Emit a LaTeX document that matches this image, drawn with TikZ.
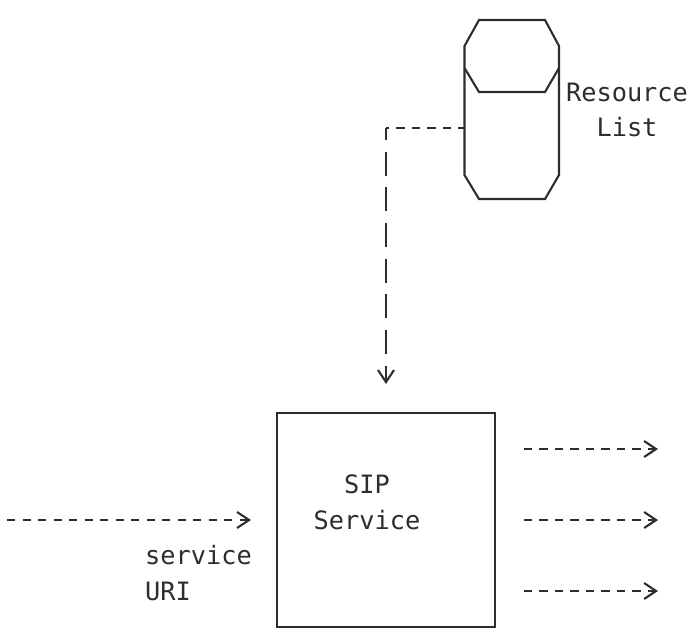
\documentclass[tikz,border=0pt]{standalone}
\usepackage{fontspec}
\setmainfont{DejaVu Sans Mono}
\usetikzlibrary{arrows.meta}
\definecolor{ink}{HTML}{2B2D30}
\begin{document}
\begin{tikzpicture}[x=1pt,y=-1pt,
  every node/.style={text=ink, font=\fontsize{25.3}{35.67}\selectfont, inner sep=0pt},
  boxline/.style={draw=ink, line width=2.1pt},
  hflow/.style={draw=ink, line width=2.1pt, dash pattern=on 8.3pt off 7.2pt},
  vflow/.style={draw=ink, line width=2.1pt, dash pattern=on 24pt off 11.67pt, dash phase=12pt},
  chev/.style={-{Straight Barb[length=12pt,width=16pt]}},
]
\path[use as bounding box] (0,0) rectangle (692,635);

% Resource list (cylinder)
\node[minimum width=94.5pt, minimum height=179pt] (rl) at (511.75,109.5) {};
\draw[boxline] (464.5,175) -- (464.5,46) -- (479,20) -- (545,20) -- (559,46)
  -- (559,175) -- (545,199) -- (479,199) -- cycle;
\draw[boxline] (464.5,68) -- (479,92) -- (545,92) -- (559,68);
\node[anchor=base, align=center] (rlabel) at (627,136.7) {Resource\\List};

% SIP service box
\node[boxline, minimum width=218pt, minimum height=214pt] (sip) at (386,520) {};
\node[anchor=base, align=center] (siplabel) at (367,529) {SIP\\Service};

% connector resource list -> service
\coordinate (rlport) at (464.5,128);
\coordinate (bend) at (386,128);
\draw[hflow, dash phase=2pt] (rlport) -- (bend);
\draw[vflow, chev, shorten >=28pt] (bend) -- (sip.north);

% incoming request
\coordinate (src) at (7,520);
\draw[hflow, chev, shorten >=25pt] (src) -- (sip.west);
\node[anchor=base west, align=left] (uri) at (145,600.4) {service\\URI};

% outgoing requests
\coordinate (o1) at (658,449);
\coordinate (o2) at (658,520);
\coordinate (o3) at (658,591);
\draw[hflow, chev, shorten <=27.7pt] (sip.east |- o1) -- (o1);
\draw[hflow, chev, shorten <=27.7pt] (sip.east |- o2) -- (o2);
\draw[hflow, chev, shorten <=27.7pt] (sip.east |- o3) -- (o3);
\end{tikzpicture}
\end{document}
